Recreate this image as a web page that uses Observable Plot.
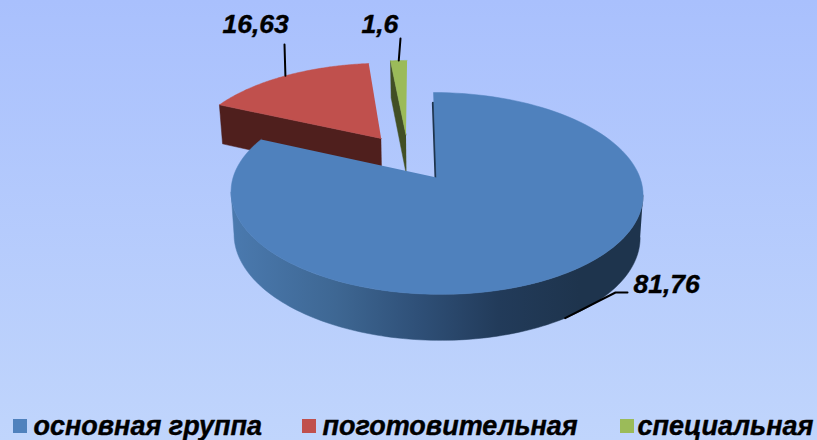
<!DOCTYPE html>
<html><head><meta charset="utf-8">
<script src="https://cdn.jsdelivr.net/npm/d3@7"></script>
<script src="https://cdn.jsdelivr.net/npm/@observablehq/plot@0.6"></script>
<style>html,body{margin:0;padding:0;overflow:hidden}svg{display:block}</style>
</head><body><div id="c"></div>
<script>
const categories = ["основная группа", "поготовительная", "специальная"];
const values = [81.76, 16.63, 1.6];
const valueLabels = ["81,76", "16,63", "1,6"];
const colors = ["#4f81bd", "#c0504d", "#9bbb59"];
const sideColors = ["url(#blueSide)", "#4f1f1d", "#414f24"];

// layout of the 3D view
const view = {cx: 436, cy: 177, R: 203.4, S: 98.4, k: 0.158, t: 3.5, D: 41.9, kd: 0.089, shrink: 0.0145, vx: 437};
const explode = [[0, 0], [-0.283, -0.423], [-0.153, -0.465]];
const labelPos = [[633, 284.5], [222, 24.5], [361, 24.5]];
const leaderTail = [[[615, 292], [627, 292]], [[284, 44]], [[400, 38]]];
const legendX = [13, 302, 620];
const legendTextX = [33, 322, 637];

const total = d3.sum(values);
let acc = 0;
const slices = values.map((v, i) => {
  const a0 = acc / total * 2 * Math.PI; acc += v;
  return {i, a0, a1: acc / total * 2 * Math.PI, shift: explode[i]};
});
function proj(wx, wy, z = 0) {
  const w = 1 - view.k * wy;
  let x = view.cx + (view.R * wx + view.t * wy) / w;
  let y = view.cy + view.S * wy / w;
  if (z) {
    y += z * view.D / (1 - view.kd * wy);
    x = view.vx + (x - view.vx) * (1 - view.shrink * z);
  }
  return {x, y};
}
const rim = (s, a, z = 0, r = 1) => proj(s.shift[0] + r * Math.sin(a), s.shift[1] - r * Math.cos(a), z);
const arc = (s, a0, a1, z = 0) => d3.range(0, 1.0001, 1 / 120).map(f => rim(s, a0 + (a1 - a0) * f, z));
const topFace = s => [rim(s, 0, 0, 0), ...arc(s, s.a0, s.a1)];
const face = (s, a) => [rim(s, 0, 0, 0), rim(s, a), rim(s, a, 1), rim(s, 0, 1, 0)];
const poly = (pts, fill) => Plot.line(pts, {x: "x", y: "y", fill, stroke: fill, strokeWidth: 0.5, curve: "linear"});
const [blue, red, green] = slices;

// the visible wall of the big slice runs between the rim's horizontal extremes
const rimAngles = d3.range(blue.a0, blue.a1, 0.002);
const blueSideRange = [d3.greatest(rimAngles, a => rim(blue, a).x), d3.least(rimAngles, a => rim(blue, a).x)];
const blueSide = [...arc(blue, ...blueSideRange), ...arc(blue, ...blueSideRange, 1).reverse()];

const gradient = () => {
  const defs = d3.create("svg:defs");
  const g = defs.append("linearGradient").attr("id", "blueSide").attr("gradientUnits", "userSpaceOnUse")
    .attr("x1", 234).attr("x2", 640).attr("y1", 0).attr("y2", 0);
  [[0, "#4a79ae"], [0.25, "#3e6793"], [0.45, "#2f5078"], [0.65, "#223b5a"], [0.85, "#1e344d"], [1, "#1e344d"]]
    .forEach(([o, c]) => g.append("stop").attr("offset", o).attr("stop-color", c));
  return defs.node();
};

const mid = s => (s.a0 + s.a1) / 2;
const leaders = slices.map(s => {
  const start = s.i === 0 ? rim(s, mid(s), 1) : rim(s, mid(s));
  return [start, ...leaderTail[s.i].map(([x, y]) => ({x, y}))];
});
const labels = slices.map(s => ({x: labelPos[s.i][0], y: labelPos[s.i][1], text: valueLabels[s.i]}));
const legend = categories.map((name, i) => ({name, x: legendX[i], tx: legendTextX[i], color: colors[i]}));

const font = {fontFamily: "'Liberation Sans', Arial, sans-serif", fontWeight: "bold", fontStyle: "italic", fill: "#000", stroke: "#000", strokeWidth: 0.4};

document.getElementById("c").append(Plot.plot({
  width: 817, height: 440, margin: 0,
  x: {domain: [0, 817], range: [0, 817], axis: null},
  y: {domain: [0, 440], range: [0, 440], axis: null},
  style: {background: "linear-gradient(#a9c0fd, #c0d5fc)"},
  marks: [
    gradient,
    poly(face(red, red.a0), sideColors[1]),
    poly(topFace(red), colors[1]),
    poly(face(green, green.a0), sideColors[2]),
    poly(topFace(green), colors[2]),
    Plot.line([rim(blue, 0, 0, 0), rim(blue, 0, 0, 0.86)], {x: "x", y: "y", stroke: "#1e344d", strokeWidth: 2.4, dx: -0.8}),
    poly(blueSide, "url(#blueSide)"),
    poly(topFace(blue), colors[0]),
    ...leaders.map(l => Plot.line(l, {x: "x", y: "y", stroke: "#000", strokeWidth: 2, curve: "linear"})),
    Plot.text(labels, {x: "x", y: "y", text: "text", textAnchor: "start", fontSize: 26.5, ...font}),
    Plot.rect(legend, {x1: "x", x2: d => d.x + 14, y1: () => 419, y2: () => 433, fill: "color"}),
    Plot.text(legend, {x: "tx", y: () => 425.4, text: "name", textAnchor: "start", fontSize: 27, ...font})
  ]
}));
</script></body></html>
